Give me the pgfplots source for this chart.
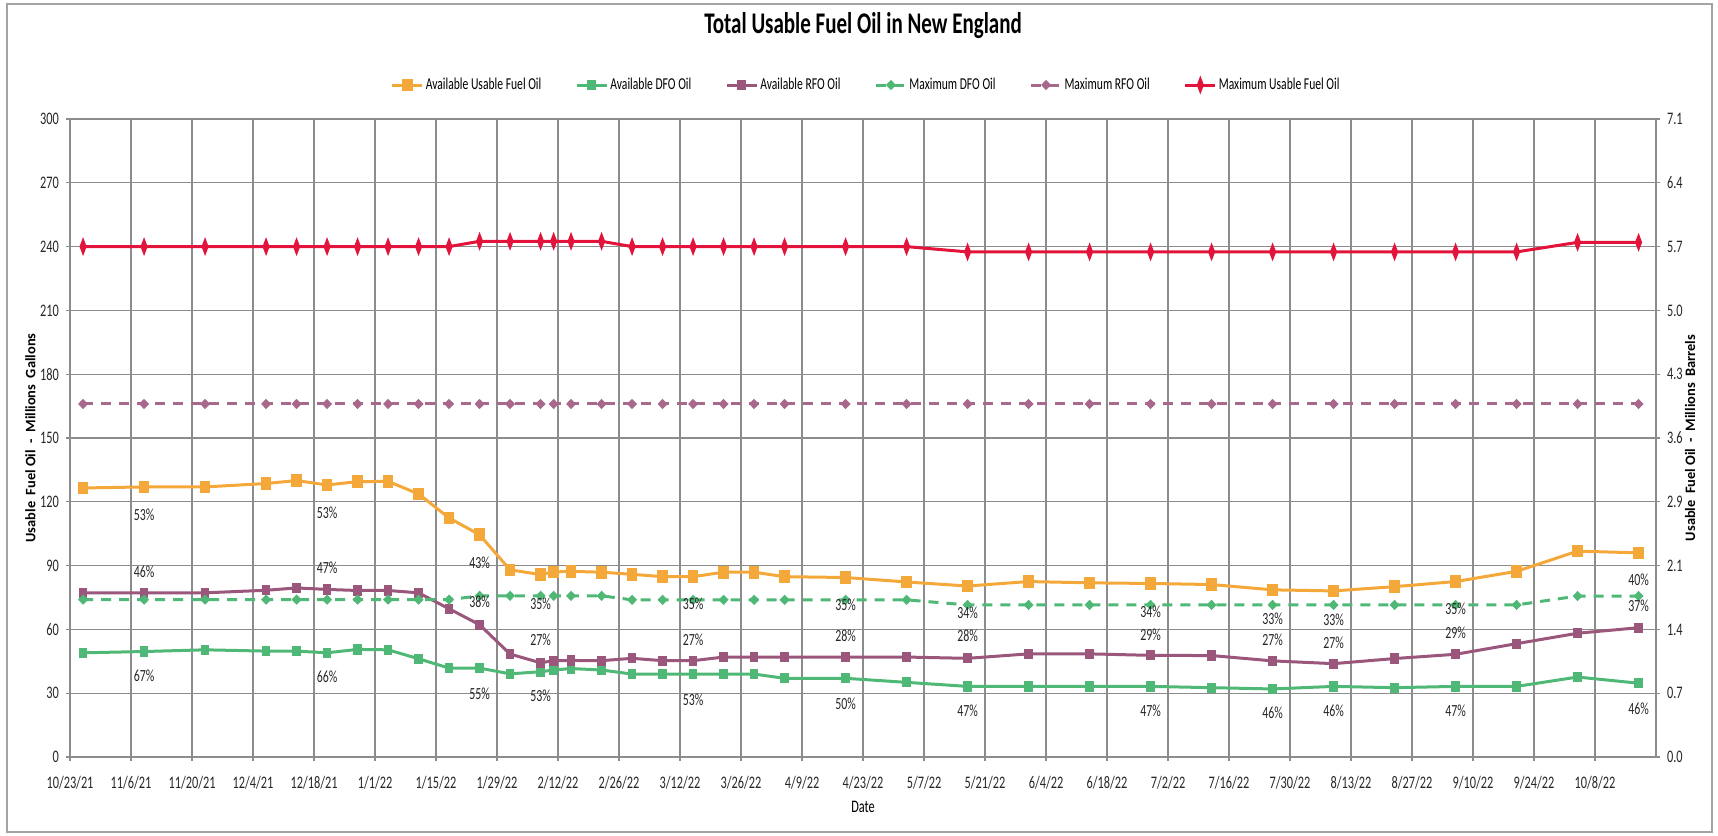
\documentclass[border=0pt]{standalone}
\usepackage{fontspec}
\setmainfont{Carlito}[FakeStretch=0.7]
\newfontfamily\axfont{Carlito}
\usepackage{pgfplots}
\pgfplotsset{compat=1.18}
\usepackage{pgfplotstable}

\definecolor{cOr}{RGB}{245,168,58}
\definecolor{cGr}{RGB}{80,184,118}
\definecolor{cPu}{RGB}{155,86,124}
\definecolor{cPuL}{RGB}{168,104,140}
\definecolor{cRe}{RGB}{226,20,60}
\definecolor{cGrid}{RGB}{140,140,140}

\pgfplotstableread{
day usable dfo rfo maxdfo maxrfo maxusable
3   126.5 49.0 77.2 74.0 166 240
17  127.0 49.6 77.2 74.0 166 240
31  127.0 50.4 77.2 74.0 166 240
45  128.6 49.8 78.4 74.0 166 240
52  130.0 49.8 79.5 74.0 166 240
59  127.9 49.0 78.8 74.0 166 240
66  129.5 50.6 78.3 74.0 166 240
73  129.6 50.4 78.3 74.0 166 240
80  123.7 46.2 77.2 74.0 166 240
87  112.4 41.8 69.7 74.0 166 240
94  104.5 41.8 62.2 75.8 166 242.5
101 88.0  39.1 48.4 75.8 166 242.5
108 85.8  40.1 44.3 75.8 166 242.5
111 87.0  40.9 45.3 75.8 166 242.5
115 87.3  41.6 45.4 75.8 166 242.5
122 86.9  40.9 45.3 75.8 166 242.5
129 85.9  39.0 46.4 73.9 166 240
136 84.8  39.0 45.3 73.9 166 240
143 84.8  39.0 45.3 73.9 166 240
150 86.9  39.0 47.0 73.9 166 240
157 86.9  39.0 47.0 73.9 166 240
164 84.8  37.0 47.0 73.9 166 240
178 84.4  37.0 47.0 73.9 166 240
192 82.3  35.1 47.0 73.9 166 240
206 80.4  33.2 46.4 71.5 166 237.5
220 82.5  33.2 48.5 71.5 166 237.5
234 81.9  33.2 48.5 71.5 166 237.5
248 81.6  33.2 47.8 71.5 166 237.5
262 81.1  32.6 47.7 71.5 166 237.5
276 78.6  32.0 45.2 71.5 166 237.5
290 78.1  33.2 43.9 71.5 166 237.5
304 80.1  32.6 46.3 71.5 166 237.5
318 82.5  33.2 48.3 71.5 166 237.5
332 87.3  33.2 53.3 71.5 166 237.5
346 96.8  37.6 58.2 75.7 166 242.0
360 96.0  34.7 60.8 75.7 166 242.0
}\fueldata

\pgfplotstableread{
day val lab
17 114.0 53
17 87.0 46
17 38.0 67
59 114.8 53
59 88.9 47
59 37.6 66
94 91.5 43
94 73.0 38
94 29.9 55
108 72.2 35
108 55.0 27
108 29.0 53
143 72.0 35
143 55.0 27
143 27.1 53
178 71.5 35
178 57.1 28
178 25.2 50
206 67.9 34
206 57.1 28
206 21.8 47
248 68.1 34
248 57.7 29
248 21.8 47
276 64.9 33
276 55.0 27
276 21.0 46
290 64.4 33
290 53.9 27
290 21.8 46
318 69.5 35
318 58.5 29
318 21.8 47
360 83.3 40
360 71.0 37
360 22.9 46
}\pctdata

\begin{document}
\begin{tikzpicture}
\useasboundingbox (0,0) rectangle (859pt,-417.5pt);
\draw[cGrid!80, line width=0.6pt] (3.5pt,-2pt) rectangle (856pt,-416pt);
\begin{axis}[
  at={(35pt,-378.5pt)}, anchor=south west,
  width=793pt, height=319pt, scale only axis,
  xmin=0, xmax=364, ymin=0, ymax=300,
  xtick={0,14,...,350},
  xticklabels={10/23/21,11/6/21,11/20/21,12/4/21,12/18/21,1/1/22,1/15/22,1/29/22,2/12/22,2/26/22,3/12/22,3/26/22,4/9/22,4/23/22,5/7/22,5/21/22,6/4/22,6/18/22,7/2/22,7/16/22,7/30/22,8/13/22,8/27/22,9/10/22,9/24/22,10/8/22},
  ytick={0,30,...,300},
  yticklabels={0,30,60,90,120,150,180,210,240,270,300},
  xtick pos=lower, ytick pos=left,
  tick align=outside, major tick length=2pt,
  tick style={cGrid, line width=0.6pt},
  axis line style={cGrid, line width=0.6pt},
  grid=major, major grid style={cGrid, line width=0.6pt},
  ticklabel style={font=\fontsize{8.8}{10}\selectfont, text=black!85},
  xticklabel style={yshift=-4pt},
  title={\bfseries\fontsize{15}{17}\selectfont Total Usable Fuel Oil in New England},
  title style={at={(axis description cs:0.5,1.1285)}, anchor=center},
  xlabel={Date},
  xlabel style={at={(axis description cs:0.5,-0.0784)}, anchor=center, font=\fontsize{8.8}{10}\selectfont},
  ylabel={Usable\ \ Fuel Oil\ \ -\ \ Millions\ \ Gallons},
  ylabel style={at={(axis description cs:-0.025,0.5)}, anchor=center, font=\axfont\bfseries\fontsize{7.2}{8}\selectfont},
  legend style={at={(0.502,1.0533)}, anchor=center, draw=none, fill=none,
    font=\fontsize{8.3}{10}\selectfont, legend columns=6,
    /tikz/every even column/.append style={column sep=16pt},
    nodes={inner sep=1pt}},
  legend cell align=left,
  legend image code/.code={\draw[mark repeat=2,mark phase=2] plot coordinates {(0pt,0pt)(7.5pt,0pt)(15pt,0pt)};},
]
\addplot[cOr, line width=1.5pt, mark=square*, mark size=2.4pt, mark options={solid, xscale=0.8}] table[x=day,y=usable] {\fueldata};
\addlegendentry{Available Usable Fuel Oil}
\addplot[cGr, line width=1.5pt, mark=square*, mark size=1.8pt, mark options={solid, xscale=0.8}] table[x=day,y=dfo] {\fueldata};
\addlegendentry{Available DFO Oil}
\addplot[cPu, line width=1.5pt, mark=square*, mark size=1.8pt, mark options={solid, xscale=0.8}] table[x=day,y=rfo] {\fueldata};
\addlegendentry{Available RFO Oil}
\addplot[cGr, line width=1.5pt, dash pattern=on 5pt off 4pt, mark=diamond*, mark size=1.5pt, mark options={solid, xscale=1.3}] table[x=day,y=maxdfo] {\fueldata};
\addlegendentry{Maximum DFO Oil}
\addplot[cPuL, line width=1.5pt, dash pattern=on 5pt off 4pt, mark=diamond*, mark size=1.5pt, mark options={solid, xscale=1.3}] table[x=day,y=maxrfo] {\fueldata};
\addlegendentry{Maximum RFO Oil}
\addplot[cRe, line width=1.5pt, mark=diamond*, mark size=2.6pt, mark options={solid, xscale=0.5}] table[x=day,y=maxusable] {\fueldata};
\addlegendentry{Maximum Usable Fuel Oil}
\addplot[forget plot, draw=none, mark=none, point meta=explicit symbolic,
  nodes near coords={\pgfplotspointmeta\%},
  every node near coord/.append style={anchor=center, inner sep=0pt, text=black!85, font=\fontsize{8.5}{10}\selectfont}]
  table[x=day, y=val, meta=lab] {\pctdata};
\end{axis}
\begin{axis}[
  at={(35pt,-378.5pt)}, anchor=south west,
  width=793pt, height=319pt, scale only axis,
  xmin=0, xmax=364, ymin=0, ymax=300,
  axis x line=none, axis y line*=right,
  ytick={0,30,...,300},
  yticklabels={0.0,0.7,1.4,2.1,2.9,3.6,4.3,5.0,5.7,6.4,7.1},
  tick align=outside, major tick length=2pt,
  tick style={cGrid, line width=0.6pt},
  axis line style={cGrid, line width=0.6pt},
  ticklabel style={font=\fontsize{8.8}{10}\selectfont, text=black!85},
  ylabel={Usable\ \ Fuel Oil\ \ -\ \ Millions\ \ Barrels},
  ylabel style={at={(axis description cs:1.0215,0.5)}, anchor=center, font=\axfont\bfseries\fontsize{7.2}{8}\selectfont},
]
\end{axis}
\end{tikzpicture}
\end{document}
